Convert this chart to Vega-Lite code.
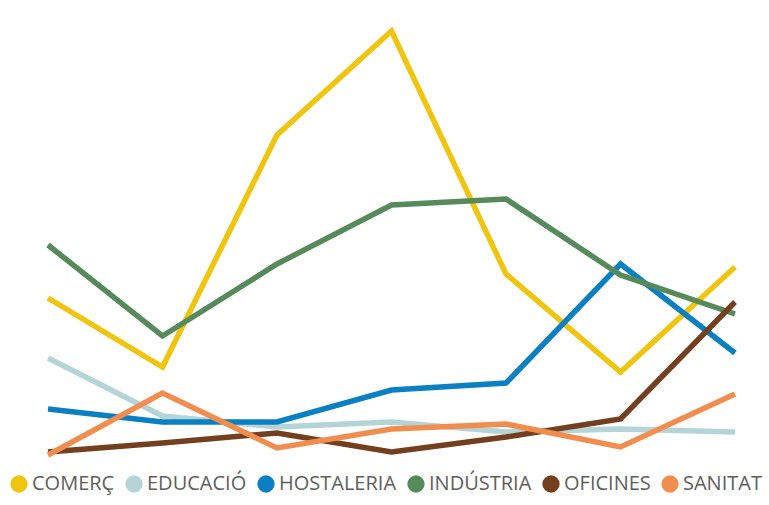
{
  "$schema": "https://vega.github.io/schema/vega-lite/v6.json",
  "width": 687,
  "height": 425,
  "autosize": {"type": "none"},
  "padding": {"left": 48, "top": 31, "right": 34, "bottom": 49},
  "background": "white",
  "config": {"view": {"stroke": null}, "font": "Open Sans"},
  "data": {"values": [
    {"p": 1, "s": "COMERÇ", "v": 202}, {"p": 2, "s": "COMERÇ", "v": 133}, {"p": 3, "s": "COMERÇ", "v": 365}, {"p": 4, "s": "COMERÇ", "v": 469}, {"p": 5, "s": "COMERÇ", "v": 226}, {"p": 6, "s": "COMERÇ", "v": 128}, {"p": 7, "s": "COMERÇ", "v": 233},
    {"p": 1, "s": "EDUCACIÓ", "v": 142}, {"p": 2, "s": "EDUCACIÓ", "v": 84}, {"p": 3, "s": "EDUCACIÓ", "v": 73}, {"p": 4, "s": "EDUCACIÓ", "v": 78}, {"p": 5, "s": "EDUCACIÓ", "v": 68}, {"p": 6, "s": "EDUCACIÓ", "v": 71}, {"p": 7, "s": "EDUCACIÓ", "v": 68},
    {"p": 1, "s": "HOSTALERIA", "v": 91}, {"p": 2, "s": "HOSTALERIA", "v": 78}, {"p": 3, "s": "HOSTALERIA", "v": 78}, {"p": 4, "s": "HOSTALERIA", "v": 110}, {"p": 5, "s": "HOSTALERIA", "v": 117}, {"p": 6, "s": "HOSTALERIA", "v": 236}, {"p": 7, "s": "HOSTALERIA", "v": 147},
    {"p": 1, "s": "INDÚSTRIA", "v": 255}, {"p": 2, "s": "INDÚSTRIA", "v": 164}, {"p": 3, "s": "INDÚSTRIA", "v": 236}, {"p": 4, "s": "INDÚSTRIA", "v": 295}, {"p": 5, "s": "INDÚSTRIA", "v": 301}, {"p": 6, "s": "INDÚSTRIA", "v": 225}, {"p": 7, "s": "INDÚSTRIA", "v": 186},
    {"p": 1, "s": "OFICINES", "v": 48}, {"p": 2, "s": "OFICINES", "v": 57}, {"p": 3, "s": "OFICINES", "v": 67}, {"p": 4, "s": "OFICINES", "v": 48}, {"p": 5, "s": "OFICINES", "v": 63}, {"p": 6, "s": "OFICINES", "v": 81}, {"p": 7, "s": "OFICINES", "v": 198},
    {"p": 1, "s": "SANITAT", "v": 45}, {"p": 2, "s": "SANITAT", "v": 107}, {"p": 3, "s": "SANITAT", "v": 52}, {"p": 4, "s": "SANITAT", "v": 71}, {"p": 5, "s": "SANITAT", "v": 76}, {"p": 6, "s": "SANITAT", "v": 53}, {"p": 7, "s": "SANITAT", "v": 106}
  ]},
  "mark": {"type": "line", "strokeWidth": 5.5, "strokeJoin": "miter", "strokeCap": "butt"},
  "encoding": {
    "x": {"field": "p", "type": "quantitative", "scale": {"domain": [1, 7], "nice": false, "zero": false}, "axis": null},
    "y": {"field": "v", "type": "quantitative", "scale": {"domain": [44, 469], "nice": false, "zero": false}, "axis": null},
    "color": {
      "field": "s", "type": "nominal",
      "scale": {
        "domain": ["COMERÇ", "EDUCACIÓ", "HOSTALERIA", "INDÚSTRIA", "OFICINES", "SANITAT"],
        "range": ["#F0C50F", "#B4D4D7", "#0A80C2", "#578A5B", "#733F1E", "#F18D4E"]
      },
      "legend": {
        "orient": "none",
        "legendX": -39,
        "legendY": 443,
        "direction": "horizontal",
        "title": null,
        "symbolType": "circle",
        "symbolSize": 300,
        "symbolStrokeWidth": 0,
        "labelFontSize": 20,
        "labelColor": "#605E5C",
        "labelFont": "Open Sans",
        "labelOffset": 3,
        "columnPadding": 9,
        "symbolOffset": 0,
        "encode": {
          "symbols": {"update": {"fill": {"field": "value", "scale": "color"}, "fillOpacity": {"value": 1}}}
        }
      }
    }
  }
}
